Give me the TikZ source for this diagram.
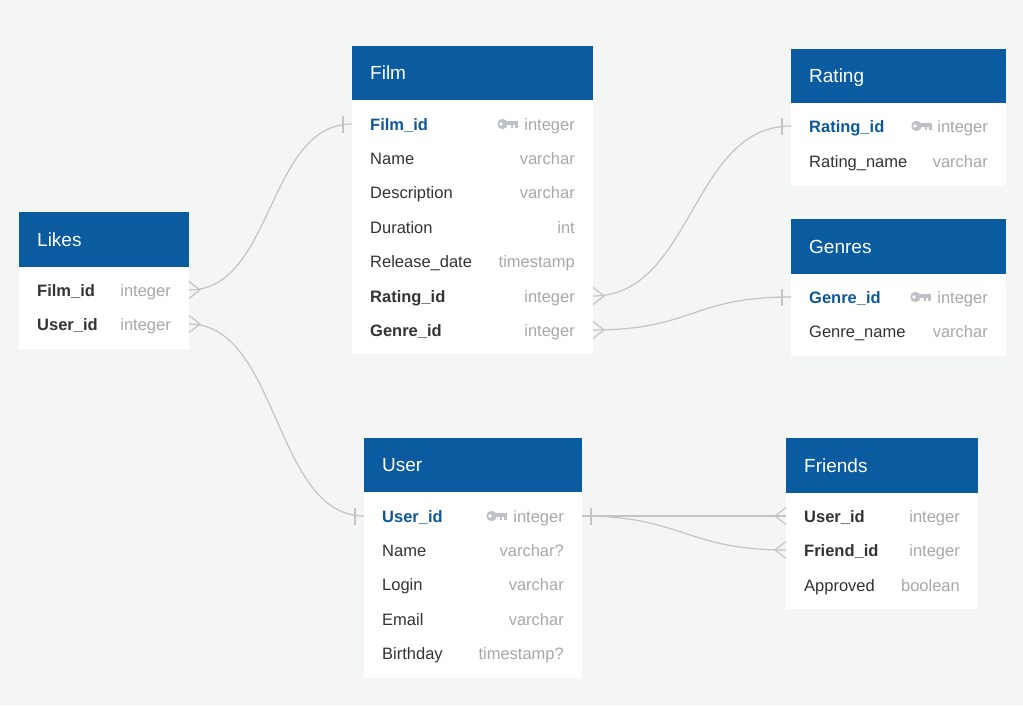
\documentclass[tikz,border=0pt]{standalone}
\usepackage{fontspec}
\setmainfont{Liberation Sans}
\usetikzlibrary{calc}
\definecolor{bg}{RGB}{244,245,245}
\definecolor{hdrblue}{RGB}{11,91,160}
\definecolor{pkblue}{RGB}{14,88,152}
\definecolor{txt}{RGB}{51,51,51}
\definecolor{typ}{RGB}{168,168,168}
\definecolor{connc}{RGB}{196,196,196}
\definecolor{keyc}{RGB}{190,194,198}

\tikzset{
 hdr/.style={fill=hdrblue, draw=none, anchor=north west, inner sep=0pt, outer sep=0pt},
 tbody/.style={fill=white, draw=none, anchor=north west, inner sep=0pt, outer sep=0pt},
 ttitle/.style={anchor=base west, text=white, font=\fontsize{19}{22}\selectfont, inner sep=0pt},
 fname/.style={anchor=base west, text=txt, font=\fontsize{16.5}{20}\selectfont, inner sep=0pt},
 fk/.style={fname, font=\fontsize{16.5}{20}\selectfont\bfseries},
 pk/.style={fname, text=pkblue, font=\fontsize{16.5}{20}\selectfont\bfseries},
 ftype/.style={anchor=base east, text=typ, font=\fontsize{16.5}{20}\selectfont, inner sep=0pt},
 rel/.style={draw=connc, line width=1.2pt},
}

% id, x1, y1, x2, y header bottom, y2, title
\newcommand\ertable[7]{%
 \node[tbody, minimum width={(#4-#2)*1pt}, minimum height={(#6-#3)*1pt}] (#1) at (#2,#3) {};
 \node[hdr, minimum width={(#4-#2)*1pt}, minimum height={(#5-#3)*1pt}] (#1-head) at (#2,#3) {};
 \node[ttitle] (#1-title) at (#2+18,{(#3+#5)/2+6.8}) {#7};
}
% id, style, x1, x2, y, name, type
\newcommand\errow[7]{%
 \node[#2] (#1-n) at (#3+18,#5+6) {#6};
 \node[ftype] (#1-t) at (#4-18,#5+6) {#7};
 \coordinate (#1-l) at (#3,#5);
 \coordinate (#1-r) at (#4,#5);
}
% key icon: left x, centre y
\newcommand\erkey[2]{%
 \fill[keyc] (#1+5.5,#2) circle[radius=5.2pt];
 \fill[keyc] (#1+9,#2-3) rectangle (#1+20.5,#2+1.2);
 \fill[keyc] (#1+14,#2+0.5) rectangle (#1+16.3,#2+3.6);
 \fill[keyc] (#1+18.2,#2+0.5) rectangle (#1+20.5,#2+3.6);
 \fill[white] (#1+4,#2) circle[radius=1.8pt];
}
\newcommand\crowR[1]{\draw[rel] ($(#1)+(0,-8.5)$) -- ($(#1)+(11,0)$) -- ($(#1)+(0,8.5)$);}
\newcommand\crowL[1]{\draw[rel] ($(#1)+(0,-8.5)$) -- ($(#1)+(-11,0)$) -- ($(#1)+(0,8.5)$);}
\newcommand\barR[1]{\draw[rel] ($(#1)+(9,-8.5)$) -- ($(#1)+(9,8.5)$);}
\newcommand\barL[1]{\draw[rel] ($(#1)+(-9,-8.5)$) -- ($(#1)+(-9,8.5)$);}

\begin{document}
\begin{tikzpicture}[x=1pt,y=-1pt]
\fill[bg] (0,0) rectangle (1023,705);
\useasboundingbox (0,0) rectangle (1023,705);

\ertable{likes}{19}{212}{189}{267}{349}{Likes}
\ertable{film}{352}{46}{593}{100}{354}{Film}
\ertable{rating}{791}{49}{1006}{103}{186}{Rating}
\ertable{genres}{791}{219}{1006}{274}{356}{Genres}
\ertable{user}{364}{438}{582}{492}{678}{User}
\ertable{friends}{786}{438}{978}{493}{609}{Friends}

% Likes rows
\errow{likes-film}{fk}{19}{189}{290}{Film\_id}{integer}
\errow{likes-user}{fk}{19}{189}{324}{User\_id}{integer}
% Film rows
\errow{film-id}{pk}{352}{593}{124}{Film\_id}{integer}
\errow{film-name}{fname}{352}{593}{158}{Name}{varchar}
\errow{film-desc}{fname}{352}{593}{192}{Description}{varchar}
\errow{film-dur}{fname}{352}{593}{227}{Duration}{int}
\errow{film-rel}{fname}{352}{593}{261}{Release\_date}{timestamp}
\errow{film-rating}{fk}{352}{593}{296}{Rating\_id}{integer}
\errow{film-genre}{fk}{352}{593}{330}{Genre\_id}{integer}
% Rating rows
\errow{rating-id}{pk}{791}{1006}{126}{Rating\_id}{integer}
\errow{rating-name}{fname}{791}{1006}{161}{Rating\_name}{varchar}
% Genres rows
\errow{genres-id}{pk}{791}{1006}{297}{Genre\_id}{integer}
\errow{genres-name}{fname}{791}{1006}{331}{Genre\_name}{varchar}
% User rows
\errow{user-id}{pk}{364}{582}{516}{User\_id}{integer}
\errow{user-name}{fname}{364}{582}{550}{Name}{varchar?}
\errow{user-login}{fname}{364}{582}{584}{Login}{varchar}
\errow{user-email}{fname}{364}{582}{619}{Email}{varchar}
\errow{user-bday}{fname}{364}{582}{653}{Birthday}{timestamp?}
% Friends rows
\errow{friends-user}{fk}{786}{978}{516}{User\_id}{integer}
\errow{friends-friend}{fk}{786}{978}{550}{Friend\_id}{integer}
\errow{friends-appr}{fname}{786}{978}{585}{Approved}{boolean}

% keys
\erkey{497}{124}
\erkey{911}{126}
\erkey{910}{297}
\erkey{486}{516}

% relations
\draw[rel] (likes-film-r) .. controls +(85,0) and +(-85,0) .. (film-id-l);
\crowR{likes-film-r}\barL{film-id-l}
\draw[rel] (likes-user-r) .. controls +(90,0) and +(-90,0) .. (user-id-l);
\crowR{likes-user-r}\barL{user-id-l}
\draw[rel] (film-rating-r) .. controls +(100,0) and +(-100,0) .. (rating-id-l);
\crowR{film-rating-r}\barL{rating-id-l}
\draw[rel] (film-genre-r) .. controls +(100,0) and +(-100,0) .. (genres-id-l);
\crowR{film-genre-r}\barL{genres-id-l}
\draw[rel] (user-id-r) -- (friends-user-l);
\crowL{friends-user-l}
\draw[rel] (user-id-r) .. controls +(100,0) and +(-100,0) .. (friends-friend-l);
\crowL{friends-friend-l}\barR{user-id-r}
\end{tikzpicture}
\end{document}
